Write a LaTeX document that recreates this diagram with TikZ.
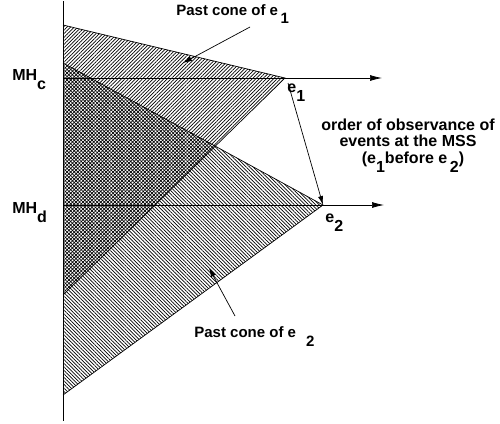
\documentclass[tikz,border=0pt]{standalone}
\usepackage{fontspec}
\setmainfont{Liberation Sans}
\usetikzlibrary{arrows.meta,patterns.meta}
\newcommand{\dnsub}[1]{\raisebox{-9pt}{#1}}

\begin{document}
\begin{tikzpicture}[x=1pt, y=-1pt, line width=0.7pt,
    every node/.style={inner sep=0pt, font=\fontsize{15}{16.5}\selectfont\bfseries},
    big/.style={font=\fontsize{16}{16.5}\selectfont\bfseries},
    hatchA/.style={pattern={Lines[angle=45,distance=2.5pt,line width=0.7pt]}},
    hatchB/.style={pattern={Lines[angle=-45,distance=2.5pt,line width=0.7pt]}},
    lblarrow/.style={-{Latex[length=9pt,width=5pt]}},
    timearrow/.style={-{Latex[length=12pt,width=6pt]}}]
  \useasboundingbox (0,0) rectangle (500,423);

  % Apexes and cone corners
  \coordinate (e1pt) at (285,78);
  \coordinate (e2pt) at (323,205);
  \coordinate (c1top) at (63,25);
  \coordinate (c1bot) at (63,295);
  \coordinate (c2top) at (63,63);
  \coordinate (c2bot) at (63,395);

  % Past cones (overlap gives the cross hatch)
  \fill[hatchA] (c1top) -- (e1pt) -- (c1bot) -- cycle;
  \fill[hatchB] (c2top) -- (e2pt) -- (c2bot) -- cycle;
  \draw (c1top) -- (e1pt) -- (c1bot);
  \draw (c2top) -- (e2pt) -- (c2bot);

  % MSS axis
  \coordinate (axtop) at (63,1);
  \coordinate (axbot) at (63,421);
  \draw (axtop) -- (axbot);

  % Horizons
  \coordinate (hc) at (63,78);
  \coordinate (hcend) at (382,78);
  \coordinate (hd) at (63,205);
  \coordinate (hdend) at (384,205);
  \draw[timearrow] (hc) -- (hcend);
  \draw[timearrow] (hd) -- (hdend);
  \node[big, anchor=base west] (mhc) at (12,80) {MH\dnsub{c}};
  \node[big, anchor=base west] (mhd) at (12,213) {MH\dnsub{d}};

  % Events
  \node[big, anchor=base west] (e1) at (287,92) {e\dnsub{1}};
  \node[big, anchor=base west] (e2) at (325,222) {e\dnsub{2}};

  % Order of observance
  \coordinate (ordstart) at (288,83);
  \draw[lblarrow] (ordstart) -- (e2pt);
  \node[big, align=center, anchor=base] (order) at (408,163) {
    order of observance of\\
    events at the MSS\\
    \hspace*{10pt}(e\dnsub{1}before e\,\dnsub{2})
  };

  % Cone labels
  \node[anchor=base west] (pc1) at (176,15) {Past cone of e\,\dnsub{1}};
  \coordinate (pc1tail) at (250,27);
  \coordinate (pc1tip) at (183,63);
  \draw[lblarrow] (pc1tail) -- (pc1tip);

  \node[anchor=base west] (pc2) at (194,337) {Past cone of e\hspace{10pt}\dnsub{2}};
  \coordinate (pc2tail) at (235,316);
  \coordinate (pc2tip) at (209,268);
  \draw[lblarrow] (pc2tail) -- (pc2tip);
\end{tikzpicture}
\end{document}
